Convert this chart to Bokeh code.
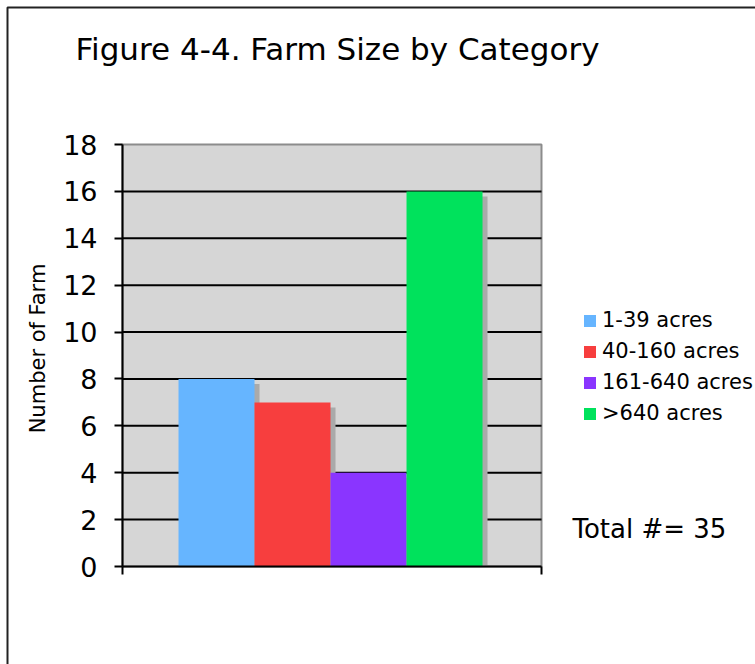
import math
from bokeh.plotting import figure
from bokeh.models import (Range1d, FixedTicker, ColumnDataSource, Label, Legend,
                          LegendItem, PolyAnnotation)
from bokeh.embed import file_html
from bokeh.resources import INLINE

# ---- data ----
categories = ["1-39 acres", "40-160 acres", "161-640 acres", ">640 acres"]
farm_counts = [8, 7, 4, 16]
bar_colors = ["#66b5ff", "#f73e3e", "#8a35ff", "#00e25c"]
y_ticks = [0, 2, 4, 6, 8, 10, 12, 14, 16, 18]
total_label = "Total #= 35"
title_text = "Figure 4-4. Farm Size by Category"
y_label = "Number of Farm"

FONT = "DejaVu Sans"

# ---- layout (pixels) ----
W, H = 755, 664
PL, PR, PT, PB = 122, 541, 144, 566       # plot-area box on the canvas
xa0, xa1 = -1.237, 4.276                  # x extent of the plot area (data)
ya0, ya1 = 0, 18                          # y extent of the plot area (data)
ppx = (PR - PL) / (xa1 - xa0)
ppy = (PB - PT) / (ya1 - ya0)
x_full = Range1d(xa0 - PL / ppx, xa1 + (W - PR) / ppx)
y_full = Range1d(ya0 - (H - PB) / ppy, ya1 + PT / ppy)

xs = list(range(len(categories)))
dx, dy = 5 / ppx, 5 / ppy   # bar shadow offset (about 5 px)

src = ColumnDataSource(dict(x=xs, top=farm_counts, cat=categories, color=bar_colors,
                            sx=[v + dx for v in xs], stop=[v - dy for v in farm_counts]))

p = figure(width=W, height=H, output_backend="svg", toolbar_location=None,
           x_range=x_full, y_range=y_full, min_border=0)
p.title.visible = False
p.background_fill_color = "white"
p.border_fill_color = "white"
p.outline_line_color = None
p.xgrid.visible = False
p.ygrid.visible = False

# plot-area background
p.quad(left=[xa0], right=[xa1], bottom=[ya0], top=[ya1], fill_color="#d6d6d6",
       line_color="#8c8c8c", line_width=2, level="image")

# horizontal grid lines, limited to the plot area
grid_vals = y_ticks[1:-1]
p.segment(x0=[xa0] * len(grid_vals), x1=[xa1] * len(grid_vals), y0=grid_vals,
          y1=grid_vals, line_color="black", line_width=2, level="underlay")

# shadows and bars
p.vbar(x="sx", top="stop", width=1, bottom=0, source=src, fill_color="#aaaaaa",
       line_color=None)
bars = p.vbar(x="x", top="top", width=1, bottom=0, source=src, fill_color="color",
              line_color=None)

# axes
ya = p.yaxis[0]
ya.fixed_location = xa0
ya.bounds = (ya0, ya1)
ya.ticker = FixedTicker(ticks=y_ticks)
ya.axis_line_width = 2
ya.axis_line_color = "black"
ya.major_tick_line_width = 2
ya.major_tick_line_color = "black"
ya.major_tick_in = 0
ya.major_tick_out = 8
ya.minor_tick_line_color = None
ya.major_label_text_font = FONT
ya.major_label_text_font_size = "27px"
ya.major_label_text_color = "black"
ya.major_label_standoff = 17

xa = p.xaxis[0]
xa.fixed_location = ya0
xa.bounds = (xa0, xa1)
xa.ticker = FixedTicker(ticks=[], minor_ticks=[xa0, xa1])
xa.axis_line_width = 2
xa.axis_line_color = "black"
xa.minor_tick_line_width = 2
xa.minor_tick_line_color = "black"
xa.minor_tick_in = 0
xa.minor_tick_out = 8

# legend
items = [LegendItem(label=c, renderers=[bars], index=i) for i, c in enumerate(categories)]
legend = Legend(items=items, location=(582, 239), glyph_width=15, glyph_height=15,
                label_text_font=FONT, label_text_font_size="21px", label_standoff=5,
                label_text_color="black",
                spacing=7, padding=0, margin=0, border_line_color=None,
                background_fill_alpha=0, label_height=24)
p.add_layout(legend, "center")

# texts
p.add_layout(Label(x=75, y=H - 48, x_units="screen", y_units="screen", text=title_text,
                   text_font=FONT, text_font_size="31px", text_baseline="alphabetic",
                   text_color="black"))
p.add_layout(Label(x=572, y=H - 528, x_units="screen", y_units="screen", text=total_label,
                   text_font=FONT, text_font_size="26px", text_baseline="alphabetic",
                   text_color="black"))
p.add_layout(Label(x=37, y=H - 348, x_units="screen", y_units="screen", text=y_label,
                   angle=math.pi / 2, text_align="center", text_baseline="middle",
                   text_font=FONT, text_font_size="21px", text_color="black"))

# outer border (top and left)
p.add_layout(PolyAnnotation(xs=[7, 7, 900, 900], ys=[-50, H - 7, H - 7, -50],
                            xs_units="screen", ys_units="screen",
                            fill_alpha=0, line_color="#222222", line_alpha=1,
                            line_width=2))

open("out.html", "w").write(file_html(p, INLINE))
